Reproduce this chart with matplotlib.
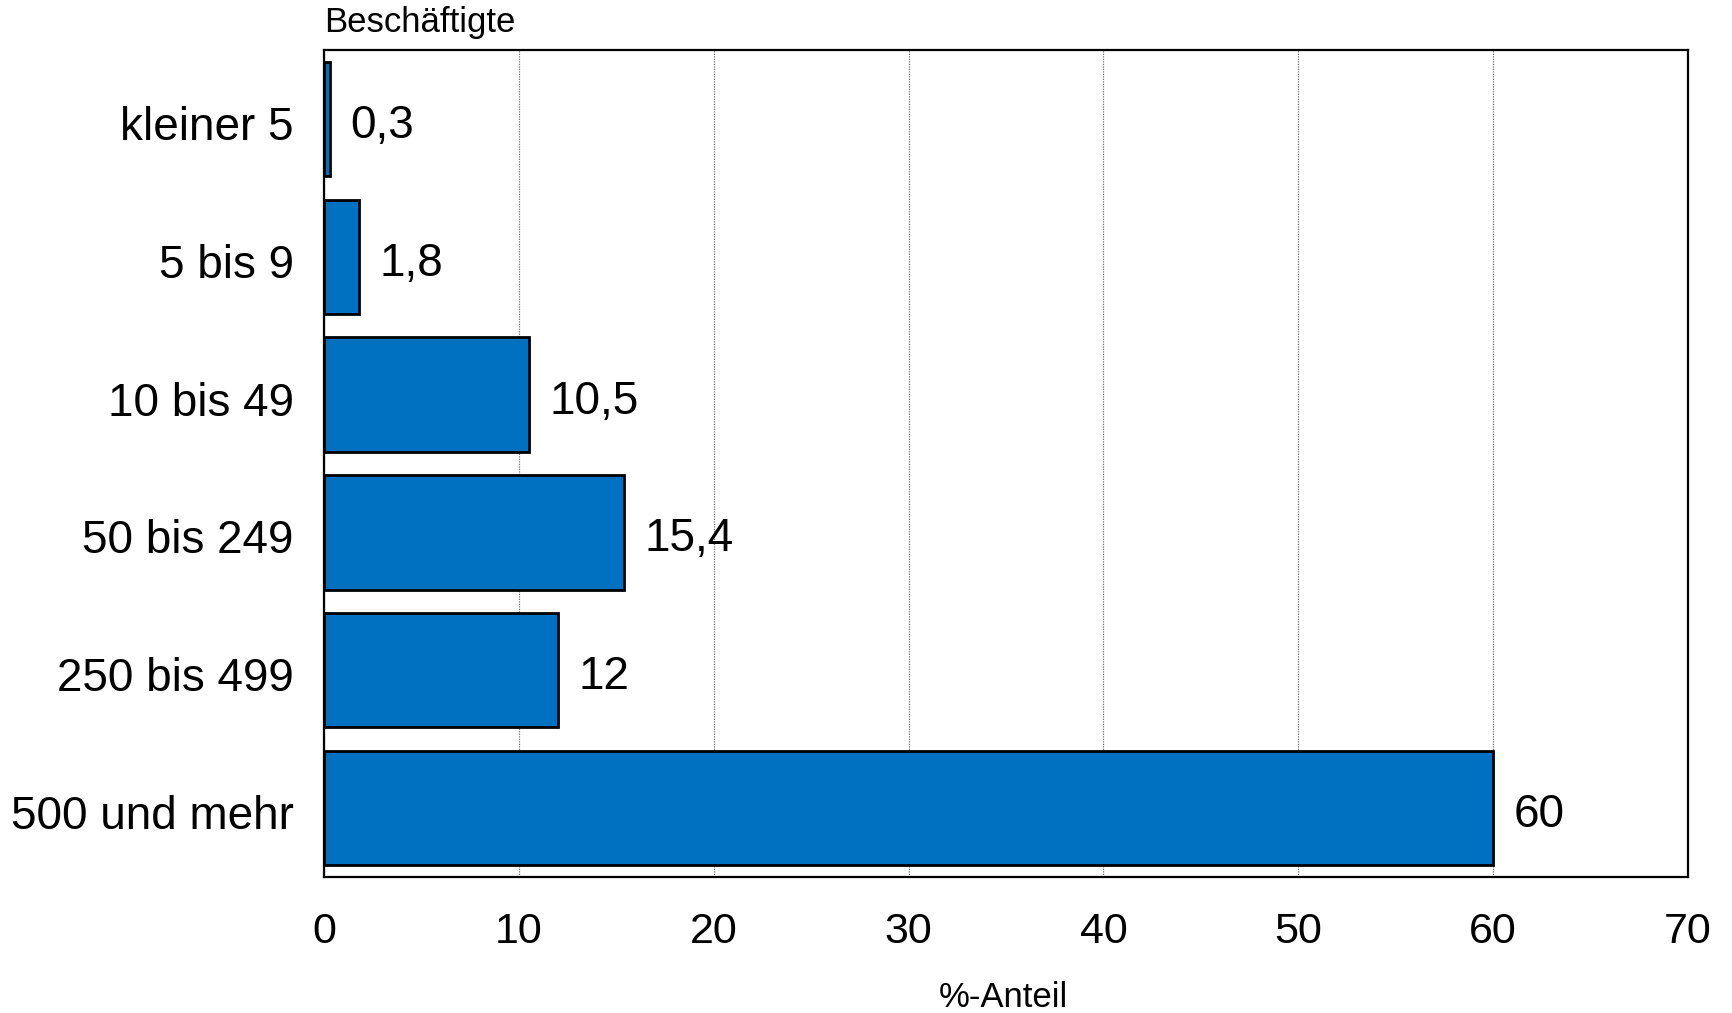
import matplotlib
matplotlib.use("Agg")
import matplotlib.pyplot as plt
from matplotlib.transforms import ScaledTranslation

categories = ["kleiner 5", "5 bis 9", "10 bis 49", "50 bis 249", "250 bis 499", "500 und mehr"]
values = [0.3, 1.8, 10.5, 15.4, 12, 60]
value_labels = ["0,3", "1,8", "10,5", "15,4", "12", "60"]
xticks = [0, 10, 20, 30, 40, 50, 60, 70]

plt.rcParams['font.family'] = ['Liberation Sans', 'DejaVu Sans']

fig = plt.figure(figsize=(17.33, 10.13), dpi=100)
ax = fig.add_axes([0.187, 0.1343, 0.787, 0.8163])

ypos = list(range(len(categories)))
ax.barh(ypos, values, height=0.83, color="#0070C0", edgecolor="black", linewidth=2.0, zorder=3)
for y, v, lab in zip(ypos, values, value_labels):
    ax.text(v + 1.05, y + 0.015, lab, va="center_baseline", ha="left", fontsize=33)

ax.set_ylim(5.5, -0.5)
ax.set_xlim(0, 70)
ax.set_yticks(ypos)
ax.set_yticklabels(categories, fontsize=33, va="center_baseline")
ax.set_xticks(xticks)
ax.set_xticklabels([str(t) for t in xticks], fontsize=31)
ax.tick_params(axis="both", length=0)
ax.tick_params(axis="x", pad=25)
ax.tick_params(axis="y", pad=22)
shift = ScaledTranslation(0, -0.04, fig.dpi_scale_trans)
for lbl in ax.get_yticklabels():
    lbl.set_transform(lbl.get_transform() + shift)
ax.xaxis.grid(True, linestyle=(0, (1, 1)), color="#707070", linewidth=0.9, zorder=0)
ax.set_axisbelow(True)
for s in ax.spines.values():
    s.set_linewidth(1.6)
    s.set_color("black")

fig.text(0.187, 0.968, "Beschäftigte", fontsize=25, ha="left", va="baseline")
fig.text(0.579, 0.006, "%-Anteil", fontsize=25, ha="center", va="baseline")

fig.savefig("out.png", dpi=100)
